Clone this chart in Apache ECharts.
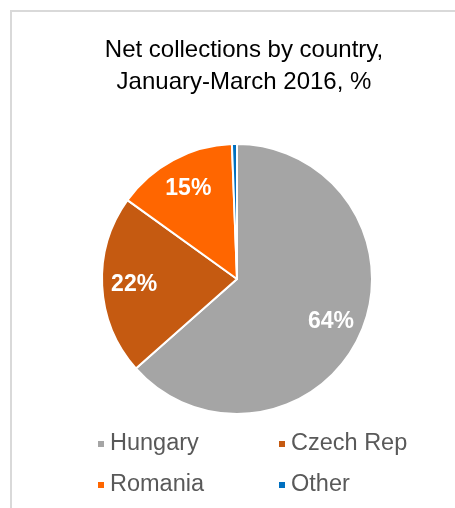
<!DOCTYPE html>
<html>
<head>
<meta charset="utf-8">
<script src="https://cdn.jsdelivr.net/npm/echarts@6/dist/echarts.min.js"></script>
<style>
  html, body { margin: 0; padding: 0; background: #fff; overflow: hidden; }
  #frame { position: absolute; left: 10px; top: 10px; width: 480px; height: 520px; border: 2px solid #d9d9d9; box-sizing: border-box; }
  #chart { position: absolute; left: 0; top: 0; width: 455px; height: 508px; }
</style>
</head>
<body>
<div id="frame"></div>
<div id="chart"></div>
<script>
const categories = ['Hungary', 'Czech Rep', 'Romania', 'Other'];
const shares = [63.6, 21.5, 14.5, 0.6];
const colors = ['#A5A5A5', '#C55A11', '#FF6600', '#0070C0'];
const titleLines = ['Net collections by country,', 'January-March 2016, %'];

const font = '"Liberation Sans", Arial, sans-serif';
const pieData = categories.map((c, i) => ({ name: c, value: shares[i], itemStyle: { color: colors[i] } }));
const labelData = categories.map((c, i) => ({ name: c, value: shares[i] }));

const chart = echarts.init(document.getElementById('chart'), null, { renderer: 'canvas' });
chart.setOption({
  animation: false,
  title: {
    text: titleLines.join('\n'),
    left: 244,
    top: 35,
    textAlign: 'center',
    padding: 0,
    textStyle: { fontFamily: font, fontSize: 24, fontWeight: 'normal', color: '#000000', lineHeight: 31.5 }
  },
  legend: [
    {
      data: [categories[0], categories[2]],
      orient: 'vertical', left: 96, top: 432, padding: 0,
      icon: 'rect', itemWidth: 8, itemHeight: 8, itemGap: 17,
      selectedMode: false,
      textStyle: { fontFamily: font, fontSize: 23.5, color: '#595959', lineHeight: 24 }
    },
    {
      data: [categories[1], categories[3]],
      orient: 'vertical', left: 277, top: 432, padding: 0,
      icon: 'rect', itemWidth: 8, itemHeight: 8, itemGap: 17,
      selectedMode: false,
      textStyle: { fontFamily: font, fontSize: 23.5, color: '#595959', lineHeight: 24 }
    }
  ],
  series: [
    {
      type: 'pie',
      center: [237, 279],
      radius: [0, 135],
      startAngle: 90,
      clockwise: true,
      avoidLabelOverlap: false,
      itemStyle: { borderColor: '#ffffff', borderWidth: 2 },
      label: { show: false },
      labelLine: { show: false },
      emphasis: { disabled: true },
      data: pieData
    },
    {
      type: 'pie',
      center: [237, 279],
      radius: [65, 135],
      startAngle: 90,
      clockwise: true,
      silent: true,
      avoidLabelOverlap: false,
      itemStyle: { color: 'rgba(0,0,0,0)', borderWidth: 0 },
      label: {
        show: true,
        position: 'inside',
        formatter: p => (p.value >= 1 ? Math.round(p.value) + '%' : ''),
        fontFamily: font, fontSize: 23, fontWeight: 'bold', color: '#ffffff'
      },
      labelLine: { show: false },
      emphasis: { disabled: true },
      data: labelData
    }
  ]
});
</script>
</body>
</html>
